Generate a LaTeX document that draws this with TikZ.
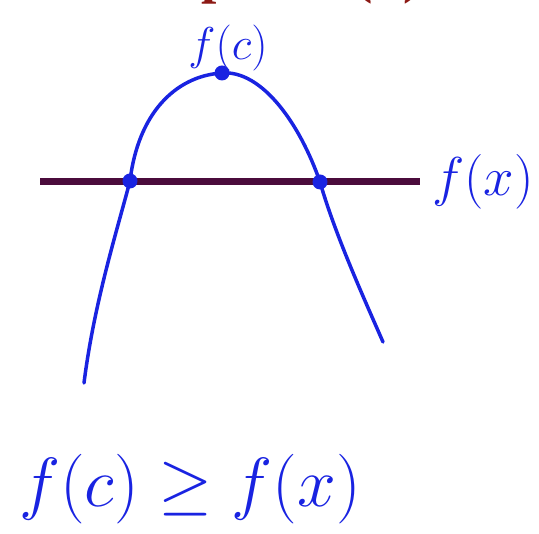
\documentclass[tikz,border=0pt]{standalone}
\usepackage{fontspec}
\newfontfamily\titlefont{Liberation Serif}
\usepackage{graphicx}
\usepackage{xcolor}
\definecolor{InkBlue}{RGB}{25,35,225}
\definecolor{LevelPurple}{RGB}{75,12,60}
\definecolor{TitleRed}{RGB}{140,25,20}
\usepackage{tikz}
\usetikzlibrary{
    positioning
}
\newcommand{\bigink}[2]{%
    \scalebox{#1}{\Huge #2}%
}
\tikzset{
    ink/.style={
        InkBlue,
        line width=3.5pt,
        line cap=round,
        line join=round
    },
    inkdot/.style={
        circle,
        fill=InkBlue,
        inner sep=0pt,
        minimum size=15pt
    },
    inklabel/.style={
        InkBlue,
        inner sep=0pt
    }
}

\begin{document}
\begin{tikzpicture}[x=1pt,y=1pt]
%
    \useasboundingbox (0,0) rectangle (539,534);
    \clip (0,0) rectangle (539,534);
%
    \node[
        TitleRed,
        anchor=base west,
        inner sep=0pt
    ]
    (title) at (64,541) {
        \titlefont\fontsize{55}{55}\selectfont\bfseries Example 12 (b)
    };
%
    \coordinate (lineW) at (40,352);
    \coordinate (lineE) at (420,352);
    \draw[
        LevelPurple,
        line width=7pt
    ]
    (lineW)
    --
    (lineE);
%
    \node[inkdot] (top) at (222,461) {};
    \node[inkdot] (cross1) at (130,353) {};
    \node[inkdot] (cross2) at (320,352) {};
    \coordinate (leftend) at (84,151);
    \coordinate (rightend) at (383,192);
%
    \draw[
        ink
    ]
    (leftend)
    .. controls (94,230) and (116,300) ..
    (cross1.center)
    .. controls (138,420) and (175,458) ..
    (top.center)
    .. controls (262,464) and (300,410) ..
    (cross2.center)
    .. controls (335,300) and (362,240) ..
    (rightend);
%
    \node[
        inklabel
    ]
    (fc) at (228,486) {
        \bigink{1.85}{$f(c)$}
    };
%
    \node[
        inklabel,
        right=12pt of lineE
    ]
    (fx) {
        \bigink{2.2}{$f(x)$}
    };
%
    \node[
        inklabel
    ]
    (ineq) at (190,45) {
        \bigink{2.8}{$f(c) \geq f(x)$}
    };
%
\end{tikzpicture}
\end{document}
